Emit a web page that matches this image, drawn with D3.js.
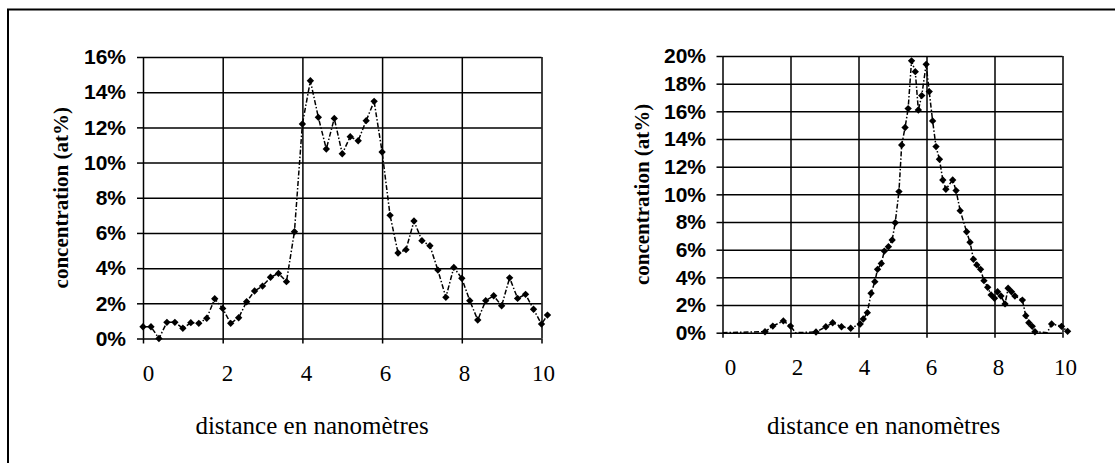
<!DOCTYPE html>
<html lang="fr">
    <head>
        <meta charset="utf-8">
        <title>Profils de concentration</title>
        <script src="https://d3js.org/d3.v7.min.js"></script>

        <style type="text/css">
          body
          {
              margin: 0;
              background-color: #ffffff;
          }
          /* tick labels of the y axis */
          .ylab text
          {
              font-family: "Liberation Sans", Arial, sans-serif;
              font-weight: bold;
              font-size: 21px;
              fill: #000000;
          }
          /* tick labels of the x axis */
          .xlab text
          {
              font-family: "Liberation Serif", "Times New Roman", serif;
              font-size: 23px;
              fill: #000000;
          }
          .grid line
          {
              stroke: #000000;
              stroke-width: 1.5px;
          }
          .title
          {
              font-family: "Liberation Serif", "Times New Roman", serif;
              fill: #000000;
          }
        </style>
    </head>
    <body>
        <script type="text/javascript">
            // left profile: one value every 0.2 nm (at%)
            var leftX = [0, 0.2, 0.4, 0.6, 0.8, 1.0, 1.2, 1.4, 1.6, 1.8,
                         2.0, 2.2, 2.4, 2.6, 2.8, 3.0, 3.2, 3.4, 3.6, 3.8,
                         4.0, 4.2, 4.4, 4.6, 4.8, 5.0, 5.2, 5.4, 5.6, 5.8,
                         6.0, 6.2, 6.4, 6.6, 6.8, 7.0, 7.2, 7.4, 7.6, 7.8,
                         8.0, 8.2, 8.4, 8.6, 8.8, 9.0, 9.2, 9.4, 9.6, 9.8,
                         10.0, 10.15];
            var leftY = [0.67, 0.67, 0, 0.92, 0.92, 0.58, 0.9, 0.86, 1.15, 2.26,
                         1.71, 0.86, 1.18, 2.09, 2.7, 2.98, 3.48, 3.7, 3.23, 6.07,
                         12.19, 14.65, 12.57, 10.77, 12.51, 10.5, 11.47, 11.24, 12.38, 13.48,
                         10.6, 7.0, 4.86, 5.05, 6.68, 5.56, 5.27, 3.89, 2.34, 4.04,
                         3.42, 2.15, 1.05, 2.15, 2.43, 1.86, 3.45, 2.28, 2.51, 1.66,
                         0.82, 1.33];

            // right profile (at%)
            var rightX = [0, 1.25, 1.48, 1.79, 2.0, 2.15, 2.75, 3.04, 3.24, 3.5,
                          3.77, 4.05, 4.14, 4.26, 4.37, 4.48, 4.56, 4.67, 4.76, 4.88,
                          4.99, 5.08, 5.19, 5.27, 5.37, 5.46, 5.56, 5.67, 5.76, 5.86,
                          5.99, 6.08, 6.18, 6.28, 6.38, 6.48, 6.57, 6.77, 6.87, 6.99,
                          7.18, 7.28, 7.38, 7.48, 7.59, 7.69, 7.8, 7.9, 8.0, 8.09,
                          8.19, 8.31, 8.4, 8.5, 8.6, 8.82, 8.92, 9.01, 9.11, 9.19,
                          9.55, 9.68, 9.97, 10.15];
            var rightY = [0, 0.07, 0.48, 0.85, 0.48, 0, 0.05, 0.43, 0.72, 0.43,
                          0.32, 0.63, 0.99, 1.45, 2.85, 3.69, 4.58, 5.0, 5.9, 6.22,
                          6.7, 7.95, 10.2, 13.57, 14.83, 16.2, 19.65, 18.87, 16.1, 17.14,
                          19.4, 17.43, 15.31, 13.45, 12.54, 11.04, 10.37, 11.04, 10.27, 8.82,
                          7.3, 6.54, 5.31, 4.9, 4.58, 3.76, 3.28, 2.73, 2.49, 2.96,
                          2.65, 2.08, 3.21, 2.96, 2.65, 2.36, 1.23, 0.72, 0.46, 0.07,
                          0, 0.63, 0.46, 0.1];

            var xTicks = [0, 2, 4, 6, 8, 10];
            var leftTicks = [0, 2, 4, 6, 8, 10, 12, 14, 16];
            var rightTicks = [0, 2, 4, 6, 8, 10, 12, 14, 16, 18, 20];

            var xTitle = "distance en nanomètres";
            var yTitle = "concentration (at%)";

            var W = 1115;
            var H = 463;

            var svg = d3.select("body")
                        .append("svg")
                        .attr("width", W)
                        .attr("height", H);

            // the scanned frame, only top and left edges are inside the picture
            svg.append("rect")
               .attr("x", 8)
               .attr("y", 9.5)
               .attr("width", 1200)
               .attr("height", 600)
               .attr("fill", "none")
               .attr("stroke", "#000")
               .attr("stroke-width", 2);

            function drawChart(opt)
            {
              var x = d3.scaleLinear().domain([0, 10]).range([opt.left, opt.right]);
              var y = d3.scaleLinear().domain([0, opt.ymax]).range([opt.bottom, opt.top]);
              // the tick numbers sit a little to the right of the gridlines
              var xl = d3.scaleLinear().domain([0, 10]).range(opt.labelRange);

              var w = opt.right - opt.left;
              var h = opt.bottom - opt.top;

              var g = svg.append("g");

              // horizontal gridlines, with the small outer ticks
              g.append("g")
               .attr("class", "grid")
               .attr("transform", "translate(" + opt.left + ",0)")
               .call(d3.axisLeft(y).tickValues(opt.yTicks).tickSize(6).tickFormat(""))
               .call(function(s) { s.select(".domain").remove(); });

              g.append("g")
               .attr("class", "grid")
               .attr("transform", "translate(" + opt.left + ",0)")
               .call(d3.axisRight(y).tickValues(opt.yTicks).tickSize(w).tickFormat(""))
               .call(function(s) { s.select(".domain").remove(); });

              // vertical gridlines, going down 5px under the axis
              g.append("g")
               .attr("class", "grid")
               .attr("transform", "translate(0," + opt.bottom + ")")
               .call(d3.axisBottom(x).tickValues(xTicks).tickSize(5).tickFormat(""))
               .call(function(s) { s.select(".domain").remove(); });

              g.append("g")
               .attr("class", "grid")
               .attr("transform", "translate(0," + opt.bottom + ")")
               .call(d3.axisTop(x).tickValues(xTicks).tickSize(h).tickFormat(""))
               .call(function(s) { s.select(".domain").remove(); });

              // percent labels
              g.append("g")
               .attr("class", "ylab")
               .attr("transform", "translate(" + opt.left + ",0)")
               .call(d3.axisLeft(y).tickValues(opt.yTicks).tickSize(0).tickPadding(opt.yPad)
                        .tickFormat(function(d) { return d + "%"; }))
               .call(function(s) { s.select(".domain").remove(); })
               .attr("font-size", null)
               .attr("font-family", null);

              // distance labels
              g.append("g")
               .attr("class", "xlab")
               .attr("transform", "translate(0," + opt.bottom + ")")
               .call(d3.axisBottom(xl).tickValues(xTicks).tickSize(0).tickPadding(26))
               .call(function(s) { s.select(".domain").remove(); })
               .attr("font-size", null)
               .attr("font-family", null);

              // axis titles
              g.append("text")
               .attr("class", "title")
               .attr("x", opt.xTitleX)
               .attr("y", 434)
               .attr("text-anchor", "middle")
               .style("font-size", "25px")
               .text(xTitle);

              g.append("text")
               .attr("class", "title")
               .attr("transform", "translate(" + opt.yTitleX + "," + (opt.top + opt.bottom) / 2 + ") rotate(-90)")
               .attr("text-anchor", "middle")
               .attr("dy", "0.35em")
               .style("font-size", "21px")
               .style("font-weight", "bold")
               .text(yTitle);

              // the profile line
              var pts = opt.xs.map(function(d, i) { return [d, opt.ys[i]]; });

              var line = d3.line()
                           .x(function(d) { return x(d[0]); })
                           .y(function(d) { return y(d[1]); });

              g.append("path")
               .datum(pts)
               .attr("d", line)
               .attr("fill", "none")
               .attr("stroke", "#000")
               .attr("stroke-width", 1.5)
               .attr("stroke-dasharray", "5,2,1.5,2");

              // diamond markers (none where the profile lies exactly on 0)
              g.selectAll(".mark")
               .data(pts.filter(function(d) { return d[1] > 0 || opt.zeroMarks; }))
               .enter()
               .append("path")
               .attr("class", "mark")
               .attr("d", d3.symbol().type(d3.symbolSquare).size(27))
               .attr("transform", function(d)
               {
                 return "translate(" + x(d[0]) + "," + y(d[1]) + ") rotate(45)";
               })
               .attr("fill", "#000");
            }

            drawChart({
              xs: leftX, ys: leftY, zeroMarks: true,
              left: 143, right: 541.5, top: 57, bottom: 338.5, ymax: 16,
              yTicks: leftTicks, yPad: 17,
              labelRange: [148, 543],
              xTitleX: 312, yTitleX: 61
            });

            drawChart({
              xs: rightX, ys: rightY, zeroMarks: false,
              left: 722.5, right: 1062.5, top: 56, bottom: 332.7, ymax: 20,
              yTicks: rightTicks, yPad: 16.5,
              labelRange: [730, 1065],
              xTitleX: 883.5, yTitleX: 642
            });
        </script>
    </body>
</html>
